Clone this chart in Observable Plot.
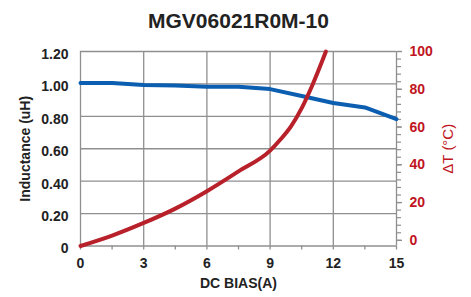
<!DOCTYPE html>
<html><head><meta charset="utf-8">
<script src="https://cdn.jsdelivr.net/npm/d3@7"></script>
<script src="https://cdn.jsdelivr.net/npm/@observablehq/plot@0.6"></script>
<style>
body{margin:0;background:#fff;font-family:"Liberation Sans",Arial,sans-serif;}
#title{height:36px;line-height:42px;text-align:center;font-weight:bold;font-size:21px;color:#222;padding-left:6px;overflow:visible;white-space:nowrap}
</style></head><body>
<div id="title"></div>
<div id="chart"></div>
<script>
const chartTitle = "MGV06021R0M-10";
const xLabel = "DC BIAS(A)";
const yLabelLeft = "Inductance (uH)";
const yLabelRight = "ΔT (°C)";

const biasL = [0, 1.5, 3, 4.5, 6, 7.5, 9, 10.5, 12, 13.5, 15];
const inductance = [1.005, 1.005, 0.993, 0.99, 0.983, 0.982, 0.968, 0.925, 0.882, 0.855, 0.783];

const biasT = [0, 1.5, 3, 4.5, 6, 7.5, 9, 9.5, 10, 10.5, 11, 11.65];
const tempRise = [-3, 2.5, 9.2, 16.8, 26, 36.5, 47.5, 53.5, 60.5, 70, 82, 100];

const xTicks = [0, 3, 6, 9, 12, 15];
const xMinorTicks = [0, 1.5, 3, 4.5, 6, 7.5, 9, 10.5, 12, 13.5, 15];
const yTicksLeft = [0, 0.2, 0.4, 0.6, 0.8, 1.0, 1.2];
const yTicksRight = [0, 20, 40, 60, 80, 100];
const yMinorRight = [0, 4, 8, 12, 16, 20, 24, 28, 32, 36, 40, 44, 48, 52, 56, 60, 64, 68, 72, 76, 80, 84, 88, 92, 96, 100];

const rightMin = -3, rightMax = 100, leftMax = 1.2;
const toY = t => (t - rightMin) / (rightMax - rightMin) * leftMax;
const fromY = v => v * (rightMax - rightMin) / leftMax + rightMin;

document.getElementById("title").textContent = chartTitle;

const indData = biasL.map((x, i) => ({x, y: inductance[i]}));
const tData = biasT.map((x, i) => ({x, y: toY(tempRise[i])}));

const gridColor = "#8f8f8f";
const red = "#c0141e";
const lineRed = "#b8202a";
const blue = "#0b5eb0";

const chart = Plot.plot({
  width: 471,
  height: 261,
  marginTop: 15,
  marginBottom: 51.5,
  marginLeft: 80,
  marginRight: 75,
  x: {domain: [0, 15]},
  y: {domain: [0, 1.2]},
  style: {fontFamily: "'Liberation Sans', Arial, sans-serif", fontSize: "14px", fontWeight: "bold", color: "#222", background: "#fff", overflow: "visible"},
  marks: [
    Plot.gridX(xTicks.slice(1, -1), {stroke: gridColor, strokeOpacity: 1, strokeWidth: 1.3}),
    Plot.gridY(yTicksLeft.slice(1), {stroke: gridColor, strokeOpacity: 1, strokeWidth: 1.3}),
    Plot.ruleX([0, 15], {stroke: gridColor, strokeWidth: 1.3}),
    Plot.ruleY([0], {stroke: gridColor, strokeWidth: 1.3}),
    Plot.axisX(xMinorTicks, {tickSize: 4, tickFormat: () => "", stroke: gridColor, strokeWidth: 1.3, label: null}),
    Plot.axisX(xTicks, {tickSize: 0, tickPadding: 12, label: null, fill: "#222"}),
    Plot.axisY(yTicksLeft, {tickSize: 0, tickPadding: 12, dy: 3, label: null, fill: "#222",
      tickFormat: d => d === 0 ? "0" : d.toFixed(2)}),
    Plot.axisY(yMinorRight.map(toY), {anchor: "right", tickSize: 4, tickFormat: () => "", stroke: gridColor, strokeWidth: 1.2, label: null}),
    Plot.axisY(yTicksRight.map(toY), {anchor: "right", tickSize: 5, tickPadding: 8, stroke: gridColor, strokeWidth: 1.3, fill: red, label: null,
      tickFormat: v => String(Math.round(fromY(v)))}),
    Plot.line(indData, {x: "x", y: "y", stroke: blue, strokeWidth: 4}),
    Plot.line(tData, {x: "x", y: "y", stroke: lineRed, strokeWidth: 4, curve: "monotone-x"}),
    Plot.text([xLabel], {frameAnchor: "bottom", dy: 41.5, fill: "#222", fontSize: 14, fontWeight: "bold"}),
    Plot.text([yLabelLeft], {frameAnchor: "left", textAnchor: "middle", dx: -55, rotate: -90, fill: "#222", fontSize: 14, fontWeight: "bold"}),
    Plot.text([yLabelRight], {frameAnchor: "right", textAnchor: "middle", dx: 52, rotate: -90, fill: red, fontSize: 15, fontWeight: "normal"})
  ]
});
document.getElementById("chart").appendChild(chart);
</script>
</body></html>
